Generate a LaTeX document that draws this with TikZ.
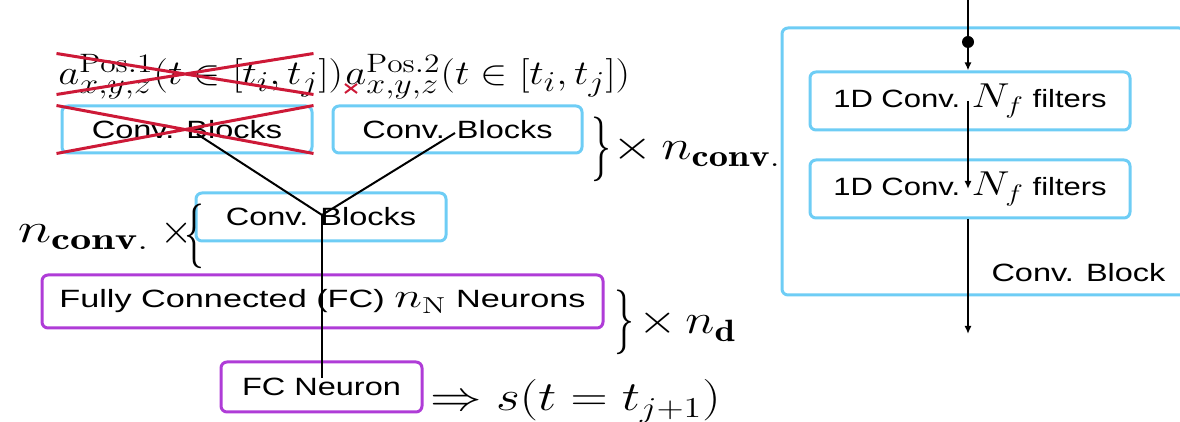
\documentclass[tikz,border=0pt]{standalone}
\usepackage{fontspec}
\usepackage{graphicx}
\usetikzlibrary{arrows.meta, calc, positioning, fit, shapes.misc}
\newfontfamily\boxfont{Liberation Sans}
\definecolor{convblue}{RGB}{110,205,245}
\definecolor{fcpurple}{RGB}{175,60,215}
\definecolor{crossred}{RGB}{205,25,55}
\newcommand{\wx}[1]{\scalebox{1.3}[1]{#1}}
\newcommand{\wm}[1]{\scalebox{1.18}[1]{#1}}
\newcommand{\bigmath}{\fontsize{16.5}{20}\selectfont}
\newcommand{\tallbrace}[1]{\scalebox{0.8}[1.3]{$#1$}}
\tikzset{
    box/.style={rectangle, rounded corners=3pt, line width=1.5pt, align=center,
        inner sep=0pt, font=\boxfont\fontsize{12.5}{15}\selectfont},
    convbox/.style={box, draw=convblue},
    fcbox/.style={box, draw=fcpurple},
    mathlabel/.style={inner sep=0pt, font=\fontsize{19}{22}\selectfont},
    countlabel/.style={inner sep=0pt, font=\fontsize{22}{26}\selectfont},
    bracelabel/.style={inner sep=0pt, font=\fontsize{52}{52}\selectfont},
    redcross/.style={cross out, draw=crossred, line width=1.5pt, inner sep=0pt},
    wire/.style={line width=1pt},
    arrow/.style={wire, -{Latex[length=4pt, width=3.5pt]}},
}

\begin{document}
\begin{tikzpicture}[x=0.5pt, y=-0.5pt]
    \useasboundingbox (0,0) rectangle (1180,422);

    % inputs and convolution branches
    \node[mathlabel, anchor=base west] (pos1) at (58,85)
        {\wm{$a^{\mathrm{Pos.1}}_{x,y,z}(t\in[t_i,t_j])$}};
    \node[mathlabel, anchor=base west] (pos2) at (345,85)
        {\wm{$a^{\mathrm{Pos.2}}_{x,y,z}(t\in[t_i,t_j])$}};
    \node[convbox, minimum width=125pt, minimum height=23.5pt] (blk1) at (187,129.5) {\wx{Conv. Blocks}};
    \node[convbox, minimum width=124.5pt, minimum height=23.5pt] (blk2) at (457.5,129.5) {\wx{Conv. Blocks}};
    \node[convbox, minimum width=125pt, minimum height=24pt] (blk3) at (321,217) {\wx{Conv. Blocks}};
    \node[redcross, fit={(58,55) (312,93)}] (xpos1) {};
    \node[redcross, fit={(58,107) (312,152)}] (xblk1) {};
    \node[redcross, line width=1pt, fit={(346,85) (356,92)}] (xsub) {};

    % dense part
    \node[fcbox, minimum width=280.5pt, minimum height=26.5pt] (fc) at (322.5,301.5)
        {\scalebox{1.37}[1]{Fully Connected (FC) {\bigmath$n_\mathrm{N}$} Neurons}};
    \node[fcbox, minimum width=100.5pt, minimum height=25pt] (out) at (321.5,387) {\wx{FC Neuron}};

    % multiplicities
    \node[bracelabel] (br1) at (601,149) {\tallbrace{\}}};
    \node[countlabel, anchor=base west] (nconv1) at (612,160) {\scalebox{1.25}[1]{$\times\, n_{\mathbf{conv.}}$}};
    \node[countlabel, anchor=base east] (nconv2) at (150,243) {\scalebox{1.38}[1]{$n_{\mathbf{conv.}}$}};
    \node[bracelabel] (br2) at (194,236) {\tallbrace{\{}};
    \node[countlabel] (times2) at (177,233) {$\times$};
    \node[bracelabel] (br3) at (624,322) {\tallbrace{\}}};
    \node[countlabel, anchor=base west] (nd) at (638,334) {\scalebox{1.2}[1]{$\times\, n_{\mathbf{d}}$}};
    \node[countlabel, anchor=base west] (result) at (430,411) {\scalebox{1.24}[1]{$\Rightarrow s(t=t_{j+1})$}};

    \coordinate (src1) at (197,134);
    \coordinate (src2) at (455,133);
    \coordinate (joint) at (322,215);
    \coordinate (sink) at (322,378);
    \draw[wire] (src1) -- (joint) -- (src2);
    \draw[wire] (joint) -- (sink);

    % conv. block detail
    \node[convbox, minimum width=201.5pt, minimum height=133.5pt] (cblock) at (983.5,161.5) {};
    \node[box, draw=none, anchor=base west] (cblabel) at (990,282) {\wx{Conv. Block}};
    \node[convbox, minimum width=160pt, minimum height=29pt] (conv1) at (970,101)
        {\scalebox{1.24}[1]{1D Conv. {\bigmath$N_f$} filters}};
    \node[convbox, minimum width=160pt, minimum height=29pt] (conv2) at (970,189)
        {\scalebox{1.24}[1]{1D Conv. {\bigmath$N_f$} filters}};
    \node[circle, fill, inner sep=0pt, minimum size=6pt] (dot) at (968,42) {};
    \coordinate (top) at (968,-2);
    \coordinate (bottom) at (968,334);
    \draw[wire] (top) -- (dot);
    \draw[arrow] (dot) -- (dot |- conv1.north);
    \draw[arrow] (dot |- conv1.center) -- (dot |- conv2.center);
    \draw[arrow] (dot |- conv2.south) -- (bottom);
\end{tikzpicture}
\end{document}
